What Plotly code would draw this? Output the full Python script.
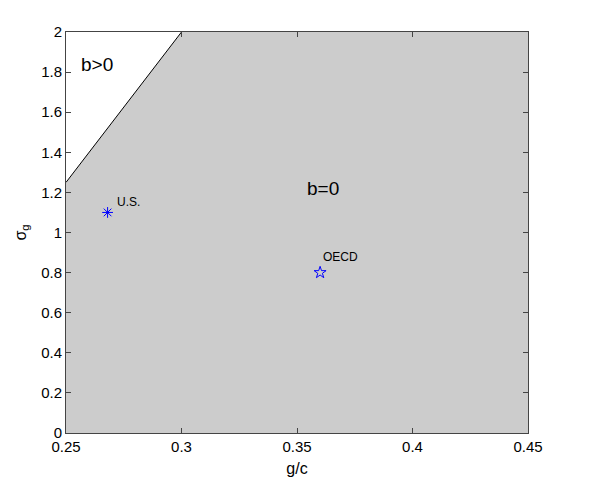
import plotly.graph_objects as go

# boundary between regions (b>0 above-left, b=0 below-right)
boundary_x = [0.25, 0.30]
boundary_y = [1.25, 2.0]
x_range = [0.25, 0.45]
y_range = [0.0, 2.0]

point_names = ["U.S.", "OECD"]
point_x = [0.268, 0.36]
point_y = [1.1, 0.8]

region_labels = ["b>0", "b=0"]
region_x = [0.2635, 0.3612]
region_y = [1.84, 1.22]

x_ticks = [0.25, 0.3, 0.35, 0.4, 0.45]
y_ticks = [0, 0.2, 0.4, 0.6, 0.8, 1, 1.2, 1.4, 1.6, 1.8, 2]

FONT = "Liberation Sans, Arial, sans-serif"

fig = go.Figure()

# grey region b=0 polygon
poly_x = [x_range[0], x_range[1], x_range[1]] + boundary_x[::-1] + [x_range[0]]
poly_y = [y_range[0], y_range[0], y_range[1]] + boundary_y[::-1] + [y_range[0]]
fig.add_trace(go.Scatter(x=poly_x, y=poly_y, mode="lines", fill="toself",
                         fillcolor="#cccccc", line=dict(width=0), hoverinfo="skip",
                         showlegend=False))
fig.add_trace(go.Scatter(x=boundary_x, y=boundary_y, mode="lines",
                         line=dict(color="black", width=1), showlegend=False))

fig.add_trace(go.Scatter(x=[point_x[0]], y=[point_y[0]], mode="markers",
                         marker=dict(symbol="asterisk-open", size=9, color="#0000ff",
                                     line=dict(color="#0000ff", width=1)),
                         showlegend=False))
fig.add_trace(go.Scatter(x=[point_x[1]], y=[point_y[1]], mode="markers",
                         marker=dict(symbol="star-open", size=9, color="#0000ff",
                                     line=dict(color="#0000ff", width=1)),
                         showlegend=False))

for name, px, py, dx, dy in zip(point_names, point_x, point_y, [0.003, 0.0003], [0.05, 0.078]):
    fig.add_annotation(x=px + dx, y=py + dy, text=name, showarrow=False,
                       xanchor="left", yanchor="middle",
                       font=dict(family=FONT, size=12, color="black"))

for t, tx, ty in zip(region_labels, region_x, region_y):
    fig.add_annotation(x=tx, y=ty, text=t, showarrow=False,
                       font=dict(family=FONT, size=19, color="black"))

axis_common = dict(showgrid=False, zeroline=False, ticks="inside", ticklen=5,
                   tickcolor="#444", showline=True, linecolor="#444", linewidth=1,
                   mirror="ticks", tickfont=dict(family=FONT, size=15, color="black"))

fig.update_xaxes(range=x_range, tickvals=x_ticks,
                 ticktext=[f"{v:g}" for v in x_ticks],
                 title=dict(text="g/c", font=dict(family=FONT, size=16, color="black"),
                            standoff=8),
                 **axis_common)
fig.update_yaxes(range=y_range, tickvals=y_ticks,
                 ticktext=[f"{v:g}" for v in y_ticks],
                 title=dict(text="σ<sub>g</sub>", font=dict(family=FONT, size=16, color="black"),
                            standoff=10),
                 **axis_common)

# page body has an 8px margin, so the figure is shrunk and margins shifted to compensate
fig.update_layout(width=592, height=485, plot_bgcolor="white", paper_bgcolor="white",
                  margin=dict(l=52, r=72, t=24, b=60), showlegend=False)

fig.write_html("out.html")
